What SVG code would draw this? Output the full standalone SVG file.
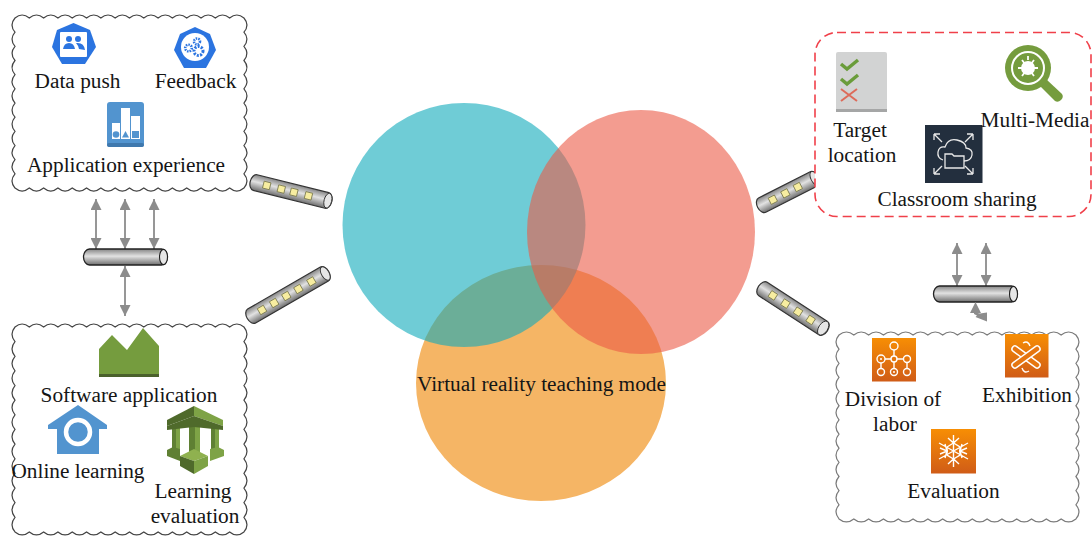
<svg xmlns="http://www.w3.org/2000/svg" xmlns:xlink="http://www.w3.org/1999/xlink" width="1092" height="537" viewBox="0 0 1092 537">
<style>
text{font-family:"Liberation Serif","Times New Roman",serif;font-size:21.300px;fill:#151515;text-anchor:middle}
.cloud{fill:#fff;stroke:#444;stroke-width:1.200}
.arr{stroke:#8c8c8c;stroke-width:1.800;fill:none;marker-start:url(#ah);marker-end:url(#ah)}
.wl{fill:none;stroke:#fff;stroke-width:1.400}
.org{fill:url(#og)}
.tb{fill:url(#cy);stroke:#333;stroke-width:1.200}
.cap{fill:#e6e6e6;stroke:#333;stroke-width:.9}
</style>
<defs>
<marker id="ah" viewBox="0 0 10 10" refX="10" refY="5" markerWidth="11" markerHeight="11" markerUnits="userSpaceOnUse" orient="auto-start-reverse"><path d="M0 0L10 5L0 10Z" fill="#8c8c8c"/></marker>
<linearGradient id="cy" x1="0" y1="0" x2="0" y2="1"><stop offset="0" stop-color="#858585"/><stop offset=".45" stop-color="#e2e2e2"/><stop offset="1" stop-color="#6e6e6e"/></linearGradient>
<linearGradient id="og" x1="0" y1="0" x2="0" y2="1"><stop offset="0" stop-color="#f78e04"/><stop offset="1" stop-color="#d05c17"/></linearGradient>
<g id="pipe"><rect x="-42" y="-8" width="84" height="16" rx="6" ry="8" fill="url(#cy)" stroke="#222" stroke-width="1.300"/><ellipse cx="38" cy="0" rx="4" ry="7.600" fill="#e6e6e6" stroke="#222" stroke-width="1.100"/></g>
<rect id="led" x="-3.500" y="-3.500" width="7" height="7" fill="#f7eda0" stroke="#77774c" stroke-width=".8"/>
</defs>

<g id="venn">
<ellipse cx="541" cy="383" rx="125" ry="118" fill="#f5b565"/>
<ellipse cx="464" cy="225" rx="121.500" ry="122" fill="#0faabb" fill-opacity=".6"/>
<ellipse cx="641" cy="232" rx="114" ry="122" fill="#eb5a46" fill-opacity=".6"/>
<text x="541.500" y="391">Virtual reality teaching mode</text>
</g>

<g id="connectors">
<path class="arr" d="M96 199V249"/><path class="arr" d="M125 199V249"/><path class="arr" d="M154 199V249"/><path class="arr" d="M125 266V316"/><path class="arr" d="M957 243V286"/><path class="arr" d="M986 243V286"/>
<use xlink:href="#pipe" transform="translate(125.500 257)"/>
<use xlink:href="#pipe" transform="translate(975.500 294)"/>
<path d="M975.500 302L981 313H977.500L980 313.500L987 312.500V321.500L975.500 317L977 315.500L974 314V313H970Z" fill="#8c8c8c"/>
<g id="tube1" transform="translate(291 191.500) rotate(14)"><rect class="tb" x="-42" y="-8" width="84" height="16" rx="5" ry="8"/><ellipse class="cap" cx="38" cy="0" rx="3.800" ry="7.500"/><use xlink:href="#led" x="-25"/><use xlink:href="#led" x="-10"/><use xlink:href="#led" x="3"/><use xlink:href="#led" x="18"/></g>
<g id="tube2" transform="translate(288 295) rotate(-30)"><rect class="tb" x="-47" y="-8" width="94" height="16" rx="5" ry="8"/><ellipse class="cap" cx="43" cy="0" rx="3.800" ry="7.500"/><use xlink:href="#led" x="-30"/><use xlink:href="#led" x="-16"/><use xlink:href="#led" x="-2"/><use xlink:href="#led" x="12"/><use xlink:href="#led" x="27"/></g>
<g id="tube3" transform="translate(788 192) rotate(-27)"><rect class="tb" x="-34" y="-8" width="68" height="16" rx="5" ry="8"/><ellipse class="cap" cx="30" cy="0" rx="3.800" ry="7.500"/><use xlink:href="#led" x="-17"/><use xlink:href="#led" x="-3"/><use xlink:href="#led" x="11"/></g>
<g id="tube4" transform="translate(793 308.500) rotate(33)"><rect class="tb" x="-41" y="-8" width="82" height="16" rx="5" ry="8"/><ellipse class="cap" cx="36" cy="0" rx="4.500" ry="7.800"/><use xlink:href="#led" x="-24"/><use xlink:href="#led" x="-9"/><use xlink:href="#led" x="6"/><use xlink:href="#led" x="21"/></g>
</g>

<g id="node-top-left">
<path class="cloud" d="M15 18q7.160-6 14.310 0q7.160-6 14.310 0q7.160-6 14.310 0q7.160-6 14.310 0q7.160-6 14.310 0q7.160-6 14.310 0q7.160-6 14.310 0q7.160-6 14.310 0q7.160-6 14.310 0q7.160-6 14.310 0q7.160-6 14.310 0q7.160-6 14.310 0q7.160-6 14.310 0q7.160-6 14.310 0q7.160-6 14.310 0q7.160-6 14.310 0q6 7.080 0 14.170q6 7.080 0 14.170q6 7.080 0 14.170q6 7.080 0 14.170q6 7.080 0 14.170q6 7.080 0 14.170q6 7.080 0 14.170q6 7.080 0 14.170q6 7.080 0 14.170q6 7.080 0 14.170q6 7.080 0 14.170q6 7.080 0 14.170q-7.160 6-14.310 0q-7.160 6-14.310 0q-7.160 6-14.310 0q-7.160 6-14.310 0q-7.160 6-14.310 0q-7.160 6-14.310 0q-7.160 6-14.310 0q-7.160 6-14.310 0q-7.160 6-14.310 0q-7.160 6-14.310 0q-7.160 6-14.310 0q-7.160 6-14.310 0q-7.160 6-14.310 0q-7.160 6-14.310 0q-7.160 6-14.310 0q-7.160 6-14.310 0q-6-7.080 0-14.170q-6-7.080 0-14.170q-6-7.080 0-14.170q-6-7.080 0-14.170q-6-7.080 0-14.170q-6-7.080 0-14.170q-6-7.080 0-14.170q-6-7.080 0-14.170q-6-7.080 0-14.170q-6-7.080 0-14.170q-6-7.080 0-14.170q-6-7.080 0-14.170Z"/>
<g id="icon-data-push"><path d="M73.500 23L90 30L96 47L85 64H62L52 47L57 30Z" fill="#2b74e0"/><rect x="60" y="32" width="27" height="25" rx="1" fill="#fff"/><circle cx="69" cy="39" r="3" fill="#2b74e0"/><circle cx="78" cy="39" r="3" fill="#2b74e0"/><path d="M63 49q1-6 6-6t6 6ZM76 43q8-1 9 7l-6-1q-1-4-3-6Z" fill="#2b74e0"/></g>
<g id="icon-feedback"><path d="M195 27L210 34L216 50L206 68H184L174 50L180 34Z" fill="#2b74e0"/><circle cx="195" cy="47" r="14" fill="#fff"/><g fill="none" stroke="#2b74e0"><circle cx="197" cy="41.500" r="3" stroke-width="2.600" stroke-dasharray="1.500 1"/><circle cx="188.500" cy="48" r="3.300" stroke-width="2.600" stroke-dasharray="1.500 1"/><circle cx="198.500" cy="51" r="4.500" stroke-width="3" stroke-dasharray="2 1.300"/></g></g>
<g id="icon-application"><rect x="107" y="102" width="37" height="45" rx="3" fill="#5294cf"/><rect x="107" y="143" width="37" height="4" rx="2" fill="#3f78ad"/><path d="M112 123h8v16h-8zM121 108h9v31h-9zM131 116h9v23h-9z" fill="#fff"/><circle cx="116" cy="134.500" r="3.300" fill="#5294cf"/><path d="M125.500 131l3.500 6.500h-7z" fill="#5294cf"/><rect x="132" y="131" width="7" height="7" fill="#5294cf"/></g>
<text x="77.500" y="88">Data push</text>
<text x="195.500" y="88">Feedback</text>
<text x="126" y="172">Application experience</text>
</g>

<g id="node-bottom-left">
<path class="cloud" d="M15 327q7.160-6 14.310 0q7.160-6 14.310 0q7.160-6 14.310 0q7.160-6 14.310 0q7.160-6 14.310 0q7.160-6 14.310 0q7.160-6 14.310 0q7.160-6 14.310 0q7.160-6 14.310 0q7.160-6 14.310 0q7.160-6 14.310 0q7.160-6 14.310 0q7.160-6 14.310 0q7.160-6 14.310 0q7.160-6 14.310 0q7.160-6 14.310 0q6 7.300 0 14.640q6 7.300 0 14.640q6 7.300 0 14.640q6 7.300 0 14.640q6 7.300 0 14.640q6 7.300 0 14.640q6 7.300 0 14.640q6 7.300 0 14.640q6 7.300 0 14.640q6 7.300 0 14.640q6 7.300 0 14.640q6 7.300 0 14.640q6 7.300 0 14.640q6 7.300 0 14.640q-7.160 6-14.310 0q-7.160 6-14.310 0q-7.160 6-14.310 0q-7.160 6-14.310 0q-7.160 6-14.310 0q-7.160 6-14.310 0q-7.160 6-14.310 0q-7.160 6-14.310 0q-7.160 6-14.310 0q-7.160 6-14.310 0q-7.160 6-14.310 0q-7.160 6-14.310 0q-7.160 6-14.310 0q-7.160 6-14.310 0q-7.160 6-14.310 0q-7.160 6-14.310 0q-6-7.300 0-14.640q-6-7.300 0-14.640q-6-7.300 0-14.640q-6-7.300 0-14.640q-6-7.300 0-14.640q-6-7.300 0-14.640q-6-7.300 0-14.640q-6-7.300 0-14.640q-6-7.300 0-14.640q-6-7.300 0-14.640q-6-7.300 0-14.640q-6-7.300 0-14.640q-6-7.300 0-14.640q-6-7.300 0-14.640Z"/>
<g id="icon-software"><path d="M99 349L112 335L127 350L143 328L159 346V377H99Z" fill="#759c3e"/><rect x="99" y="374" width="60" height="3" fill="#4b612c"/></g>
<g id="icon-online"><path d="M78 405L107 425V429H99V454H57V429H48V425Z" fill="#5294cf"/><circle cx="78" cy="432" r="12" fill="none" stroke="#fff" stroke-width="4.500"/></g>
<g id="icon-eval">
<path d="M172 428h8v24h-8zM189 426h11v32h-11zM211 428h8v24h-8z" fill="#5f8033"/>
<path d="M176 428h4v24h-4zM195 426h5v32h-5zM215 428h4v24h-4z" fill="#7ea346"/>
<path d="M167 450l6-3 7 2v12l-13-5z" fill="#5f8033"/><path d="M224 450l-6-3-8 2v12l14-5z" fill="#7ea346"/>
<path d="M194 406L167 420V426L194 416Z" fill="#4f6a2b"/><path d="M194 406L223 420V426L194 416Z" fill="#7ea346"/>
<path d="M167 426L194 416V427L167 430ZM223 426L194 416V427L223 430Z" fill="#4f6a2b"/>
<path d="M180 456l14-7 14 7-14 5z" fill="#8fb14f"/><path d="M180 456l14 5v13l-14-8z" fill="#4f6a2b"/><path d="M208 456l-14 5v13l14-8z" fill="#7ea346"/>
</g>
<text x="129" y="402">Software application</text>
<text x="78" y="478">Online learning</text>
<text x="193" y="498">Learning</text>
<text x="195" y="523">evaluation</text>
</g>

<g id="node-top-right">
<rect x="815" y="32.500" width="276" height="184" rx="22" fill="#fff" stroke="#f0404a" stroke-width="1.600" stroke-dasharray="9 5"/>
<g id="icon-target"><rect x="836" y="52" width="51" height="60" rx="2" fill="#d2d3d3"/><rect x="836" y="109" width="51" height="3" fill="#a5a6a6"/><path d="M841 64l6 5 11-9M841 79l6 5 11-9" fill="none" stroke="#6a9c3a" stroke-width="3.500"/><path d="M841 89l16 12M857 89l-16 12" fill="none" stroke="#dd6b5a" stroke-width="2"/></g>
<g id="icon-media"><path d="M1040 86l6-7 16 15q2 3-1 6t-6 1Z" fill="#759c3e"/><circle cx="1028" cy="68" r="23" fill="#759c3e"/><circle cx="1028" cy="68" r="16" fill="none" stroke="#fff" stroke-width="2"/><circle cx="1028" cy="68" r="7" fill="#fff"/><path d="M1022 60l12 16M1034 60l-12 16M1018 68h20M1028 56v4" stroke="#fff" stroke-width="1.800"/></g>
<g id="icon-classroom"><rect x="925" y="125" width="57.500" height="58" fill="#232f3e"/><g fill="none" stroke="#e8e8e8" stroke-width="1.300"><path d="M934 134l8 8M934 134v6M934 134h6M973 134l-8 8M973 134v6M973 134h-6M934 174l8-8M934 174v-6M934 174h6M973 174l-8-8M973 174v-6M973 174h-6"/><path d="M943 160q-6-2-5-8t7-5q3-9 12-7t9 8q7 1 6 7t-8 6"/><path d="M945 154h7l2 2h10v12h-19z"/></g></g>
<text x="860" y="137">Target</text>
<text x="862" y="162">location</text>
<text x="1035" y="127">Multi-Media</text>
<text x="957" y="206">Classroom sharing</text>
</g>

<g id="node-bottom-right">
<path class="cloud" style="stroke:#7a7a7a" d="M839 335q7.400-6 14.810 0q7.400-6 14.810 0q7.400-6 14.810 0q7.400-6 14.810 0q7.400-6 14.810 0q7.400-6 14.810 0q7.400-6 14.810 0q7.400-6 14.810 0q7.400-6 14.810 0q7.400-6 14.810 0q7.400-6 14.810 0q7.400-6 14.810 0q7.400-6 14.810 0q7.400-6 14.810 0q7.400-6 14.810 0q7.400-6 14.810 0q6 7.080 0 14.150q6 7.080 0 14.150q6 7.080 0 14.150q6 7.080 0 14.150q6 7.080 0 14.150q6 7.080 0 14.150q6 7.080 0 14.150q6 7.080 0 14.150q6 7.080 0 14.150q6 7.080 0 14.150q6 7.080 0 14.150q6 7.080 0 14.150q6 7.080 0 14.150q-7.400 6-14.810 0q-7.400 6-14.810 0q-7.400 6-14.810 0q-7.400 6-14.810 0q-7.400 6-14.810 0q-7.400 6-14.810 0q-7.400 6-14.810 0q-7.400 6-14.810 0q-7.400 6-14.810 0q-7.400 6-14.810 0q-7.400 6-14.810 0q-7.400 6-14.810 0q-7.400 6-14.810 0q-7.400 6-14.810 0q-7.400 6-14.810 0q-7.400 6-14.810 0q-6-7.080 0-14.150q-6-7.080 0-14.150q-6-7.080 0-14.150q-6-7.080 0-14.150q-6-7.080 0-14.150q-6-7.080 0-14.150q-6-7.080 0-14.150q-6-7.080 0-14.150q-6-7.080 0-14.150q-6-7.080 0-14.150q-6-7.080 0-14.150q-6-7.080 0-14.150q-6-7.080 0-14.150Z"/>
<g id="icon-division"><rect class="org" x="872" y="338" width="44" height="43.500"/><g class="wl"><path d="M894 350v6M885 359h6M897 359h7M907 363v5M894 362v6M881 363v5"/><circle cx="894" cy="346" r="4"/><circle cx="894" cy="359" r="3"/><circle cx="881" cy="359" r="4"/><circle cx="907" cy="359" r="3.500"/><circle cx="881" cy="372" r="3.500"/><circle cx="894" cy="372" r="3.500"/><circle cx="907" cy="372" r="3.500"/></g><circle cx="881" cy="359" r="1" fill="#fff"/><circle cx="894" cy="372" r="1" fill="#fff"/></g>
<g id="icon-exhibition"><rect class="org" x="1005" y="334" width="43.500" height="43.500"/><path d="M1015 349L1037 365" stroke="#fff" stroke-width="7.500" stroke-linecap="round"/><path d="M1015 349L1037 365" stroke="#e67610" stroke-width="4.500" stroke-linecap="round"/><path d="M1037 349L1015 365" stroke="#fff" stroke-width="7.500" stroke-linecap="round"/><path d="M1037 349L1015 365" stroke="#e67610" stroke-width="4.500" stroke-linecap="round"/><path class="wl" d="M1023 343q5-3 7 3M1029 371q-5 3-7-3"/></g>
<g id="icon-evaluation"><rect class="org" x="931" y="429" width="45" height="44.500"/><g class="wl" stroke-width="1.700"><path d="M953.500 435v32M939 443l29 16M968 443l-29 16M948 438l5.500 5 5.500-5M948 464l5.500-5 5.500 5M940 448l7 3-2-7M967 448l-7 3 2-7M940 454l7-3-2 7M967 454l-7-3 2 7"/><path d="M947 447l6.500-4 6.500 4v8l-6.500 4-6.500-4Z"/></g></g>
<text x="893" y="406">Division of</text>
<text x="895" y="431">labor</text>
<text x="1027" y="402">Exhibition</text>
<text x="953.500" y="498">Evaluation</text>
</g>
</svg>
